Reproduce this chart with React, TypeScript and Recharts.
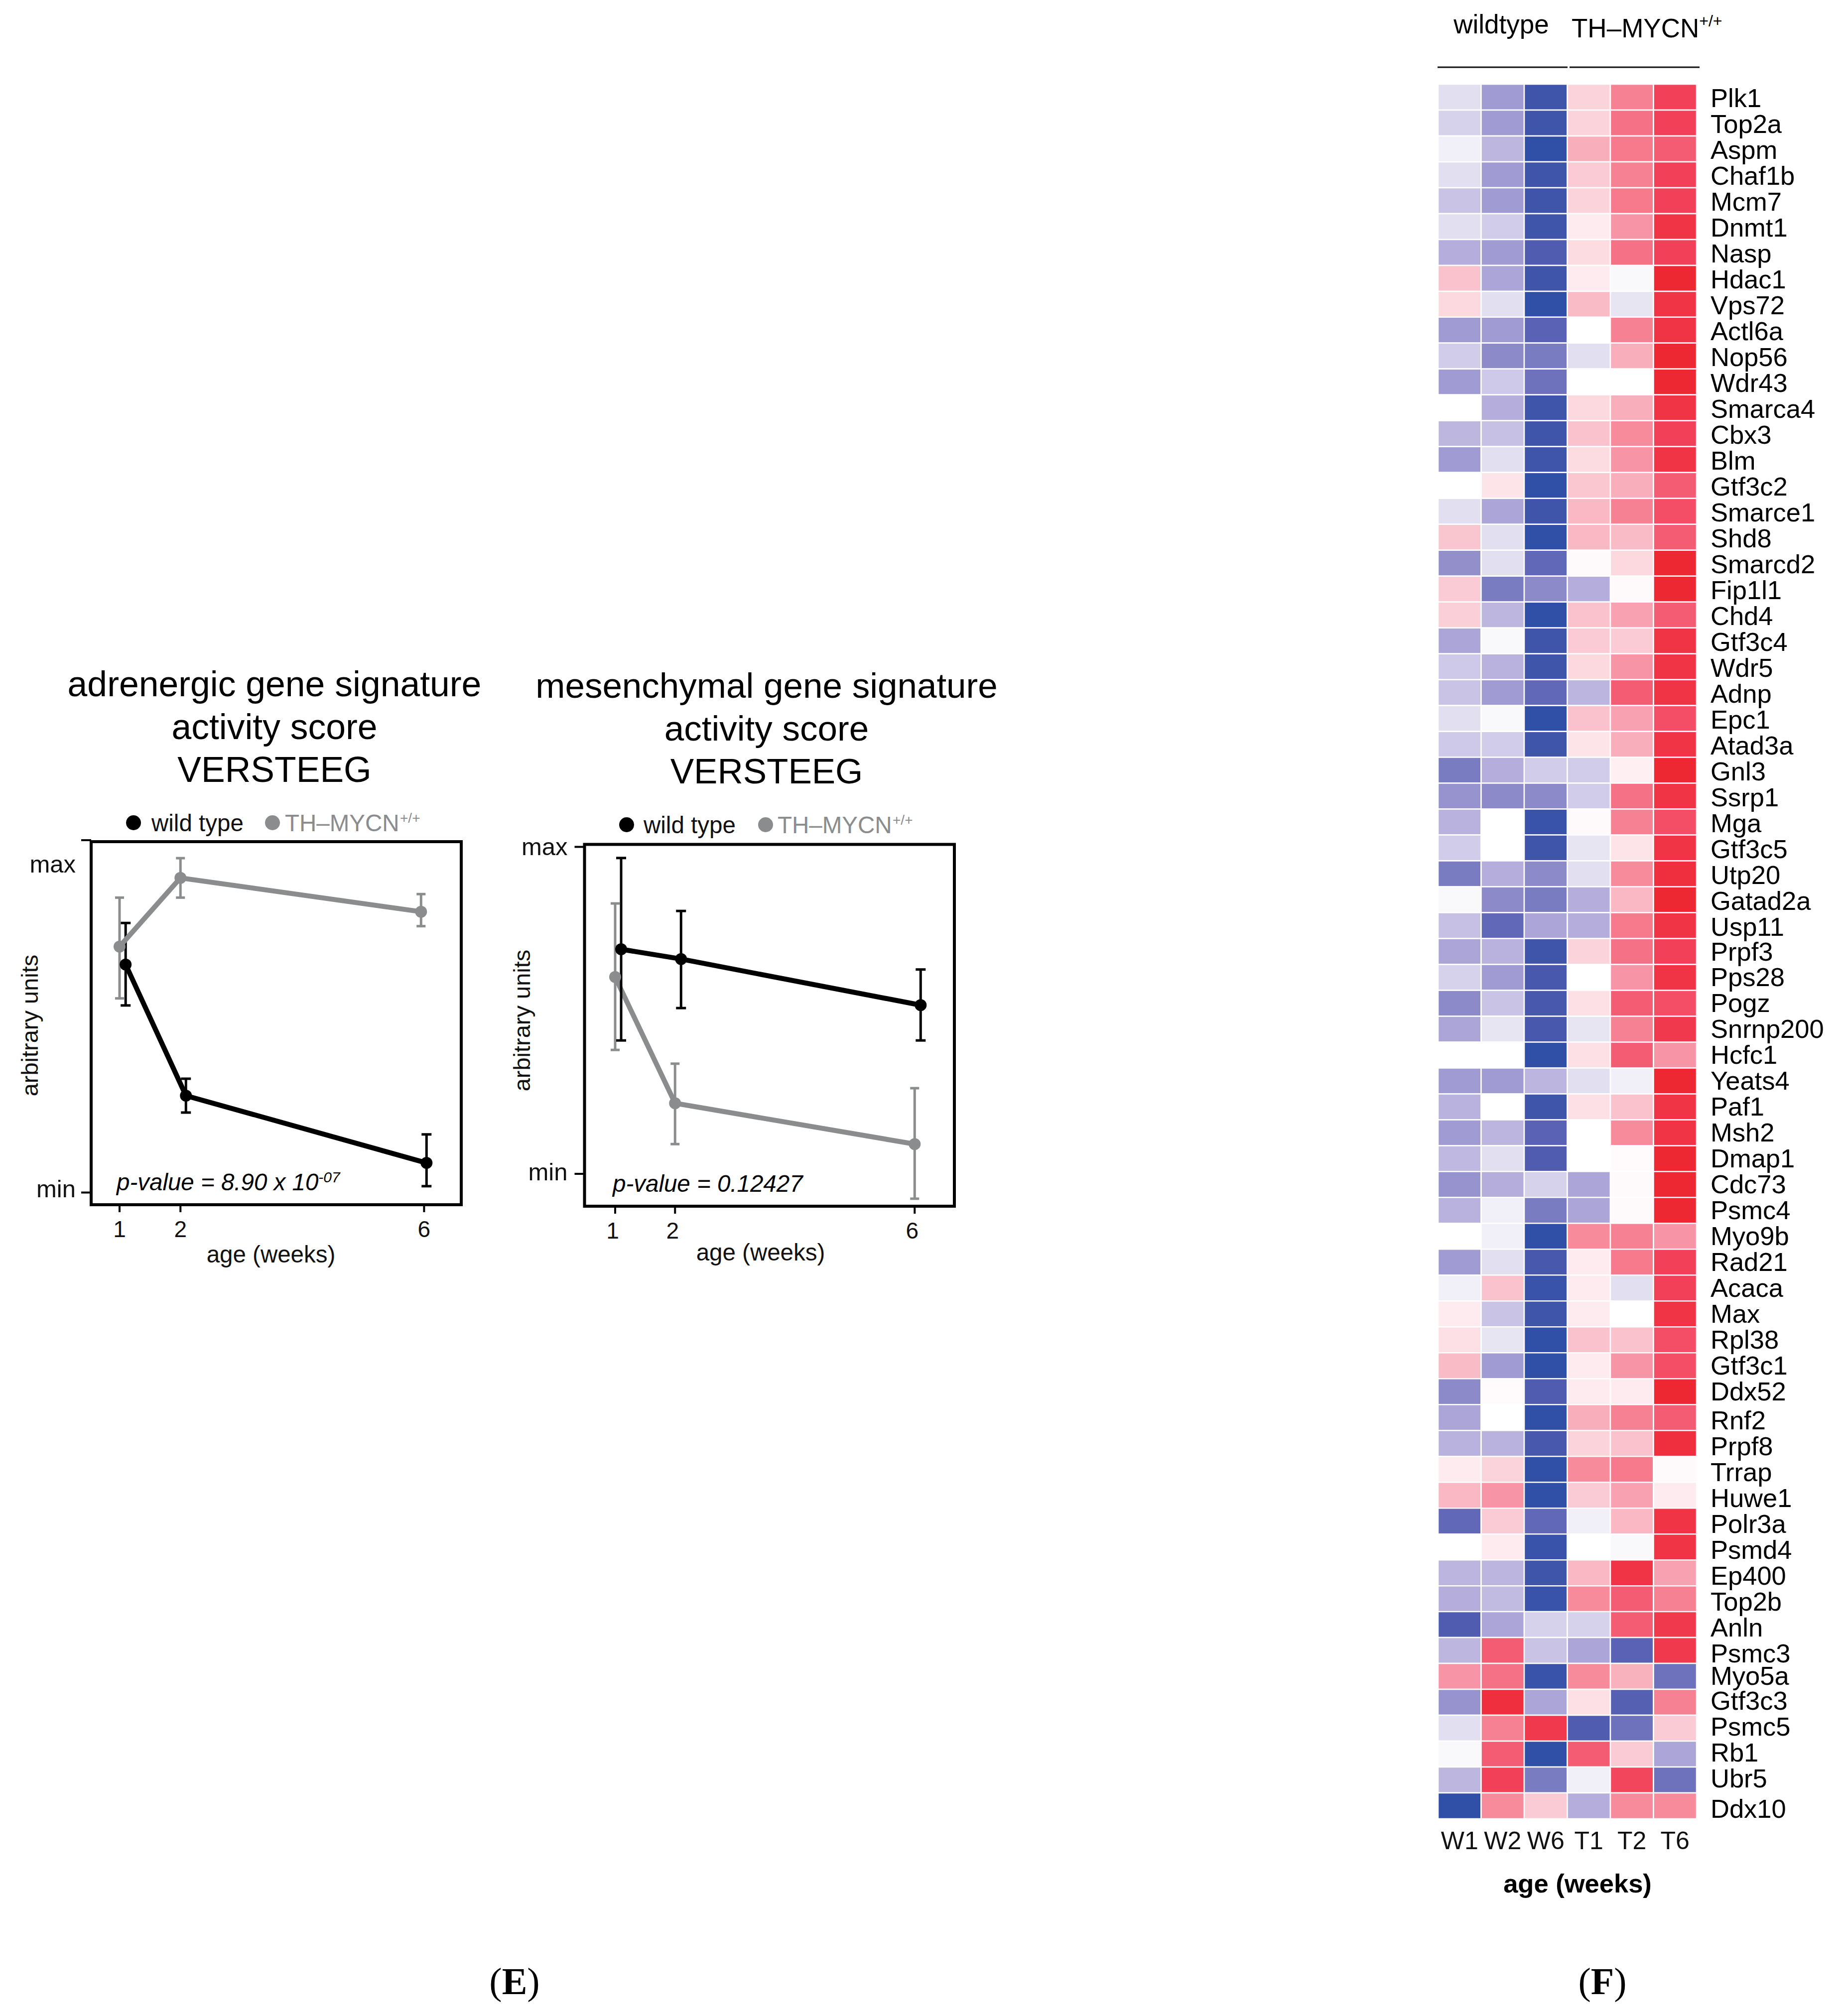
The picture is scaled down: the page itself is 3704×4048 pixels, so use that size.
import React from "react";
import {
  Bar,
  BarChart,
  Cell,
  ErrorBar,
  Line,
  LineChart,
  ReferenceArea,
  XAxis,
  YAxis,
} from "recharts";

const BLACK = "#000000";
const GREY = "#8a8c8e";
const SANS = "'Liberation Sans', Arial, sans-serif";
const SERIF = "'Liberation Serif', 'Times New Roman', serif";

const weekTicks = [1, 2, 6];

// activity scores, 0 = "min" tick, 1 = "max" tick. the two genotypes are dodged on x in the source
const adrenergicWildWeeks = [1.1, 2.09, 6.04];
const adrenergicWild = [0.647, 0.275, 0.084];
const adrenergicWildLow = [0.531, 0.227, 0.018];
const adrenergicWildHigh = [0.765, 0.323, 0.165];
const adrenergicMycnWeeks = [1, 2, 5.95];
const adrenergicMycn = [0.698, 0.893, 0.797];
const adrenergicMycnLow = [0.551, 0.837, 0.756];
const adrenergicMycnHigh = [0.837, 0.949, 0.847];

const mesenchymalWildWeeks = [1.1, 2.1, 6.1];
const mesenchymalWild = [0.687, 0.657, 0.516];
const mesenchymalWildLow = [0.408, 0.507, 0.408];
const mesenchymalWildHigh = [0.966, 0.804, 0.625];
const mesenchymalMycnWeeks = [1, 2, 6];
const mesenchymalMycn = [0.602, 0.216, 0.091];
const mesenchymalMycnLow = [0.379, 0.091, -0.076];
const mesenchymalMycnHigh = [0.827, 0.337, 0.262];

const samples = ["W1", "W2", "W6", "T1", "T2", "T6"];

const genes = [
  "Plk1", "Top2a", "Aspm", "Chaf1b", "Mcm7", "Dnmt1", "Nasp", "Hdac1", "Vps72", "Actl6a",
  "Nop56", "Wdr43", "Smarca4", "Cbx3", "Blm", "Gtf3c2", "Smarce1", "Shd8", "Smarcd2", "Fip1l1",
  "Chd4", "Gtf3c4", "Wdr5", "Adnp", "Epc1", "Atad3a", "Gnl3", "Ssrp1", "Mga", "Gtf3c5",
  "Utp20", "Gatad2a", "Usp11", "Prpf3", "Pps28", "Pogz", "Snrnp200", "Hcfc1", "Yeats4", "Paf1",
  "Msh2", "Dmap1", "Cdc73", "Psmc4", "Myo9b", "Rad21", "Acaca", "Max", "Rpl38", "Gtf3c1",
  "Ddx52", "Rnf2", "Prpf8", "Trrap", "Huwe1", "Polr3a", "Psmd4", "Ep400", "Top2b", "Anln",
  "Psmc3", "Myo5a", "Gtf3c3", "Psmc5", "Rb1", "Ubr5", "Ddx10",
];

// one row per gene, same order as samples. -10 is full blue, 10 is full red
const expression = [
  [-1, -4, -9, 2, 6, 9],
  [-1.5, -4, -9, 2, 7, 9],
  [-0.5, -2.6, -10, 4, 6.5, 8],
  [-1, -4, -9, 2.5, 6, 9],
  [-2, -4, -9, 2, 6.5, 9],
  [-1, -1.7, -9, 1, 5, 9.5],
  [-3, -4, -8, 1.7, 7, 9],
  [3, -3.5, -9, 1, -0.2, 10],
  [1.8, -1, -10, 3.3, -0.8, 9.5],
  [-4, -4, -7.5, 0, 6, 9.5],
  [-1.7, -5, -6, -1, 4, 10],
  [-4, -1.8, -6.5, 0, 0, 10],
  [0, -3, -9, 1.8, 4, 9.5],
  [-2.6, -2.2, -9, 3, 5.5, 9],
  [-4, -1, -9, 1.7, 5, 9.5],
  [0, 1.3, -10, 2.7, 4, 8],
  [-1, -3.5, -9, 3.5, 6, 8.5],
  [2.8, -1, -10, 3.5, 3.3, 8],
  [-4.7, -1, -7, 0.3, 1.8, 10],
  [2.5, -6, -5, -3, 0.3, 10],
  [2.3, -2.6, -10, 3, 4.5, 8],
  [-3.5, -0.2, -9, 2.5, 2.5, 9.5],
  [-1.8, -2.8, -9, 1.8, 5, 9.5],
  [-2, -4, -7, -2.7, 8, 9.5],
  [-1, -0.2, -10, 3, 4.5, 8.5],
  [-1.8, -1.7, -9, 1.3, 4, 9.5],
  [-6, -3, -1.7, -1.7, 0.8, 10],
  [-4.5, -5, -5, -1.7, 7, 9.5],
  [-2.8, 0, -9.5, 0.3, 6, 8.5],
  [-1.7, 0, -9, -0.8, 1.3, 9.5],
  [-6, -3, -5, -1, 5.5, 9.7],
  [-0.2, -5, -6, -3, 3.5, 10],
  [-2.2, -7, -3.5, -3, 6.5, 9.5],
  [-3.5, -2.8, -9, 2, 7, 9],
  [-1.5, -4, -8.5, 0, 5, 9.5],
  [-5, -2, -8.5, 1.5, 8, 8.5],
  [-3.5, -0.8, -8.5, -0.8, 6, 9.3],
  [0, 0, -10, 1.5, 8, 5],
  [-4, -4, -2.7, -1, -0.5, 10],
  [-2.8, 0, -9, 1.5, 3, 9.5],
  [-4, -2.7, -7.5, 0, 5.5, 9.5],
  [-2.5, -1, -8, 0, 0.2, 10],
  [-4.5, -3, -1.5, -3.5, 0.3, 10],
  [-2.8, -0.5, -6, -3.5, 0.3, 10],
  [0, -0.5, -10, 5.5, 6, 5],
  [-4, -1, -8.5, 1, 6.5, 9],
  [-0.5, 3, -9.5, 1, -1, 9],
  [1, -2, -9, 1, 0, 9.5],
  [1.5, -0.8, -10, 3, 3, 8.5],
  [3.3, -4, -10, 1, 5, 8.5],
  [-5, 0.2, -8, 1, 1, 10],
  [-3.5, 0, -10, 4, 6, 8],
  [-2.8, -2.8, -8.5, 2, 3, 9.7],
  [1, 2, -10, 5.5, 6.5, 0.3],
  [3.5, 5, -10, 2.5, 4.5, 1],
  [-7, 2.5, -7, -0.5, 3.5, 9.5],
  [0, 1, -9.5, 0, -0.2, 9.5],
  [-2.7, -2.7, -9, 3.5, 9.5, 4.5],
  [-3, -2.4, -9.5, 5.5, 8, 6],
  [-8, -3.5, -1.5, -1.5, 8, 9.3],
  [-2.6, 8, -2, -3.5, -7.5, 9.3],
  [5, 7, -9.5, 5.5, 3.8, -6.5],
  [-4.5, 9.7, -3.5, 1.5, -7.7, 6],
  [-1, 6, 9.3, -8, -6.5, 2.5],
  [-0.2, 8, -10, 8, 2.5, -3.5],
  [-2.6, 9, -6, -0.5, 8.8, -6.5],
  [-10, 5.5, 2.5, -3, 5.5, 5.5],
];

// colour ramp picked off the heatmap, from -10 to 10
const ramp = [
  [48, 80, 168], [63, 85, 169], [80, 92, 176], [98, 104, 184], [122, 124, 194], [140, 138, 200],
  [160, 155, 211], [181, 174, 220], [201, 196, 230], [226, 223, 240], [255, 255, 255],
  [253, 235, 239], [251, 212, 219], [249, 194, 204], [248, 174, 187], [247, 148, 166],
  [246, 129, 146], [245, 113, 134], [244, 92, 115], [241, 64, 87], [238, 40, 50],
];

function cellColor(level: number): string {
  const pos = level + 10;
  const lo = Math.min(Math.floor(pos), 19);
  const t = pos - lo;
  const rgb = ramp[lo].map((c, i) => Math.round(c + (ramp[lo + 1][i] - c) * t));
  return `rgb(${rgb.join(",")})`;
}

// gene labels are not quite on their rows in the source
function labelDrop(index: number): number {
  if (index === 66) return 24;
  if (index >= 62) return 15;
  if (index === 61) return 17;
  if (index >= 51) return 24;
  if (index >= 33) return 18;
  return 20;
}

const heatmapRows = genes.map((gene) => {
  const row: Record<string, string | number> = { gene };
  samples.forEach((s) => {
    row[s] = 1;
  });
  return row;
});

function toPoints(weeks: number[], values: number[], low: number[], high: number[]) {
  return weeks.map((week, i) => ({
    week,
    value: values[i],
    err: [values[i] - low[i], high[i] - values[i]],
  }));
}

type PanelProps = {
  left: number;
  top: number;
  plotLeft: number;
  plotRight: number;
  plotTop: number;
  plotBottom: number;
  xDomain: number[];
  yDomain: number[];
  wild: ReturnType<typeof toPoints>;
  mycn: ReturnType<typeof toPoints>;
  maxDrop: number;
  minDrop: number;
  labelGap: number;
  weekNudge: number;
  wildOnTop: boolean;
};

function Panel(p: PanelProps) {
  const width = 1000;
  const height = 1000;
  const wildLine = (
    <Line
      key="wild"
      data={p.wild}
      dataKey="value"
      stroke={BLACK}
      strokeWidth={10}
      dot={{ r: 12, fill: BLACK, stroke: "none" }}
      isAnimationActive={false}
    >
      <ErrorBar dataKey="err" direction="y" width={10} stroke={BLACK} strokeWidth={5} isAnimationActive={false} />
    </Line>
  );
  const mycnLine = (
    <Line
      key="mycn"
      data={p.mycn}
      dataKey="value"
      stroke={GREY}
      strokeWidth={10}
      dot={{ r: 12, fill: GREY, stroke: "none" }}
      isAnimationActive={false}
    >
      <ErrorBar dataKey="err" direction="y" width={9} stroke={GREY} strokeWidth={5} isAnimationActive={false} />
    </Line>
  );
  return (
    <div style={{ position: "absolute", left: p.left, top: p.top }}>
      <LineChart
        width={width}
        height={height}
        margin={{ top: p.plotTop, right: width - p.plotRight, bottom: 0, left: 0 }}
      >
        <XAxis
          dataKey="week"
          type="number"
          domain={p.xDomain}
          ticks={weekTicks}
          allowDataOverflow
          height={height - p.plotBottom}
          axisLine={false}
          tickSize={15}
          tickMargin={0}
          tickLine={{ stroke: BLACK, strokeWidth: 4 }}
          tick={(t: any) => (
            <text x={t.x + p.weekNudge} y={t.y + 50} textAnchor="middle" fontSize={46} fontFamily={SANS} fill="#111">
              {t.payload.value}
            </text>
          )}
        />
        <YAxis
          type="number"
          domain={p.yDomain}
          ticks={[0, 1]}
          allowDataOverflow
          width={p.plotLeft}
          axisLine={false}
          tickSize={20}
          tickMargin={0}
          tickLine={{ stroke: BLACK, strokeWidth: 4 }}
          tick={(t: any) => (
            <text
              x={t.x - p.labelGap}
              y={t.y + (t.payload.value === 1 ? p.maxDrop : p.minDrop)}
              textAnchor="end"
              fontSize={49}
              fontFamily={SANS}
              fill="#111"
            >
              {t.payload.value === 1 ? "max" : "min"}
            </text>
          )}
        />
        <ReferenceArea
          x1={p.xDomain[0]}
          x2={p.xDomain[1]}
          y1={p.yDomain[0]}
          y2={p.yDomain[1]}
          fill="none"
          fillOpacity={0}
          stroke={BLACK}
          strokeWidth={6}
          strokeOpacity={1}
          ifOverflow="visible"
        />
        {p.wildOnTop ? [mycnLine, wildLine] : [wildLine, mycnLine]}
      </LineChart>
    </div>
  );
}

function Heatmap() {
  const plotWidth = 519;
  const plotHeight = 3483;
  return (
    <div style={{ position: "absolute", left: 2887, top: 169 }}>
      <BarChart
        layout="vertical"
        width={817}
        height={plotHeight + 200}
        data={heatmapRows}
        barCategoryGap={0}
        margin={{ top: 0, right: 0, bottom: 0, left: 0 }}
      >
        <XAxis
          type="number"
          domain={[0, samples.length]}
          ticks={samples.map((_, i) => i + 0.5)}
          height={200}
          axisLine={false}
          tickLine={false}
          tickMargin={0}
          interval={0}
          tick={(t: any) => (
            <text x={t.x} y={3713 - 169} textAnchor="middle" fontSize={50} fontFamily={SANS} fill="#111">
              {samples[Math.floor(t.payload.value)]}
            </text>
          )}
        />
        <YAxis
          type="category"
          dataKey="gene"
          orientation="right"
          width={817 - plotWidth}
          axisLine={false}
          tickLine={false}
          tickMargin={0}
          interval={0}
          tick={(t: any) => (
            <text
              x={plotWidth + 28}
              y={t.y + labelDrop(t.index)}
              textAnchor="start"
              fontSize={52.5}
              fontFamily={SANS}
              fill="#000"
            >
              {t.payload.value}
            </text>
          )}
        />
        {samples.map((sample, col) => (
          <Bar key={sample} dataKey={sample} stackId="samples" isAnimationActive={false}>
            {genes.map((gene, row) => (
              <Cell key={gene} fill={cellColor(expression[row][col])} stroke="#ffffff" strokeWidth={2.5} />
            ))}
          </Bar>
        ))}
      </BarChart>
    </div>
  );
}

function Legend({ dotX, textX, grayDotX, grayTextX, y }: { dotX: number; textX: number; grayDotX: number; grayTextX: number; y: number }) {
  return (
    <g fontFamily={SANS} fontSize={47.5}>
      <circle cx={dotX} cy={y - 17} r={15} fill={BLACK} />
      <text x={textX} y={y} fill="#111">wild type</text>
      <circle cx={grayDotX} cy={y - 17} r={15} fill={GREY} />
      <text x={grayTextX} y={y} fill={GREY}>TH–MYCN</text>
      <text x={grayTextX + 231} y={y - 17} fill={GREY} fontSize={28}>+/+</text>
    </g>
  );
}

function Title({ x, y, first, size }: { x: number; y: number; first: string; size: number }) {
  return (
    <g fontFamily={SANS} fontSize={size} textAnchor="middle" fill="#000">
      <text x={x} y={y}>{first}</text>
      <text x={x} y={y + 86}>activity score</text>
      <text x={x} y={y + 172}>VERSTEEG</text>
    </g>
  );
}

function Overlay() {
  return (
    <svg width={3704} height={4048} style={{ position: "absolute", left: 0, top: 0 }}>
      <Title x={551} y={1398} first="adrenergic gene signature" size={71.5} />
      <Title x={1539} y={1401} first="mesenchymal gene signature" size={71} />
      <Legend dotX={268} textX={304} grayDotX={547} grayTextX={572} y={1669} />
      <Legend dotX={1258} textX={1292} grayDotX={1537} grayTextX={1561} y={1673} />

      <g fontFamily={SANS} fontSize={47.5} fontStyle="italic" fill="#000">
        <text x={234} y={2390}>p-value = 8.90 x 10<tspan fontSize={30} dy={-16}>-07</tspan></text>
        <text x={1230} y={2393}>p-value = 0.12427</text>
      </g>

      <g fontFamily={SANS} fontSize={47.5} fill="#111" textAnchor="middle">
        <text x={544} y={2535}>age (weeks)</text>
        <text x={1527} y={2531}>age (weeks)</text>
        <text transform="translate(76 2059) rotate(-90)" fontSize={47}>arbitrary units</text>
        <text transform="translate(1064 2049) rotate(-90)" fontSize={47}>arbitrary units</text>
      </g>

      <g fontFamily={SANS} fontSize={53} fill="#000">
        <text x={3014} y={67} textAnchor="middle">wildtype</text>
        <text x={3155} y={75}>TH–MYCN<tspan fontSize={32} dy={-22}>+/+</tspan></text>
      </g>
      <line x1={2886} x2={3147} y1={135} y2={135} stroke="#111" strokeWidth={3} />
      <line x1={3151} x2={3412} y1={135} y2={135} stroke="#111" strokeWidth={3} />

      <text x={3167} y={3800} textAnchor="middle" fontFamily={SANS} fontSize={52.5} fontWeight="bold" fill="#000">
        age (weeks)
      </text>

      <g fontFamily={SERIF} fontSize={76} textAnchor="middle" fill="#000">
        <text x={1033} y={4004}>(<tspan fontWeight="bold">E</tspan>)</text>
        <text x={3217} y={4004}>(<tspan fontWeight="bold">F</tspan>)</text>
      </g>
    </svg>
  );
}

export default function App(): React.JSX.Element {
  return (
    <div style={{ position: "absolute", left: 0, top: 0, width: 3704, height: 4048, background: "#fff" }}>
      <Panel
        left={0}
        top={1600}
        plotLeft={183}
        plotRight={926}
        plotTop={90}
        plotBottom={819}
        xDomain={[0.534, 6.61]}
        yDomain={[-0.0346, 0.9958]}
        wild={toPoints(adrenergicWildWeeks, adrenergicWild, adrenergicWildLow, adrenergicWildHigh)}
        mycn={toPoints(adrenergicMycnWeeks, adrenergicMycn, adrenergicMycnLow, adrenergicMycnHigh)}
        maxDrop={65}
        minDrop={9}
        labelGap={11}
        weekNudge={0}
        wildOnTop={false}
      />
      <Panel
        left={1000}
        top={1600}
        plotLeft={173.5}
        plotRight={916}
        plotTop={95.5}
        plotBottom={822}
        xDomain={[0.489, 6.663]}
        yDomain={[-0.099, 1.0076]}
        wild={toPoints(mesenchymalWildWeeks, mesenchymalWild, mesenchymalWildLow, mesenchymalWildHigh)}
        mycn={toPoints(mesenchymalMycnWeeks, mesenchymalMycn, mesenchymalMycnLow, mesenchymalMycnHigh)}
        maxDrop={17}
        minDrop={13}
        labelGap={14}
        weekNudge={-5}
        wildOnTop={true}
      />
      <Heatmap />
      <Overlay />
    </div>
  );
}
